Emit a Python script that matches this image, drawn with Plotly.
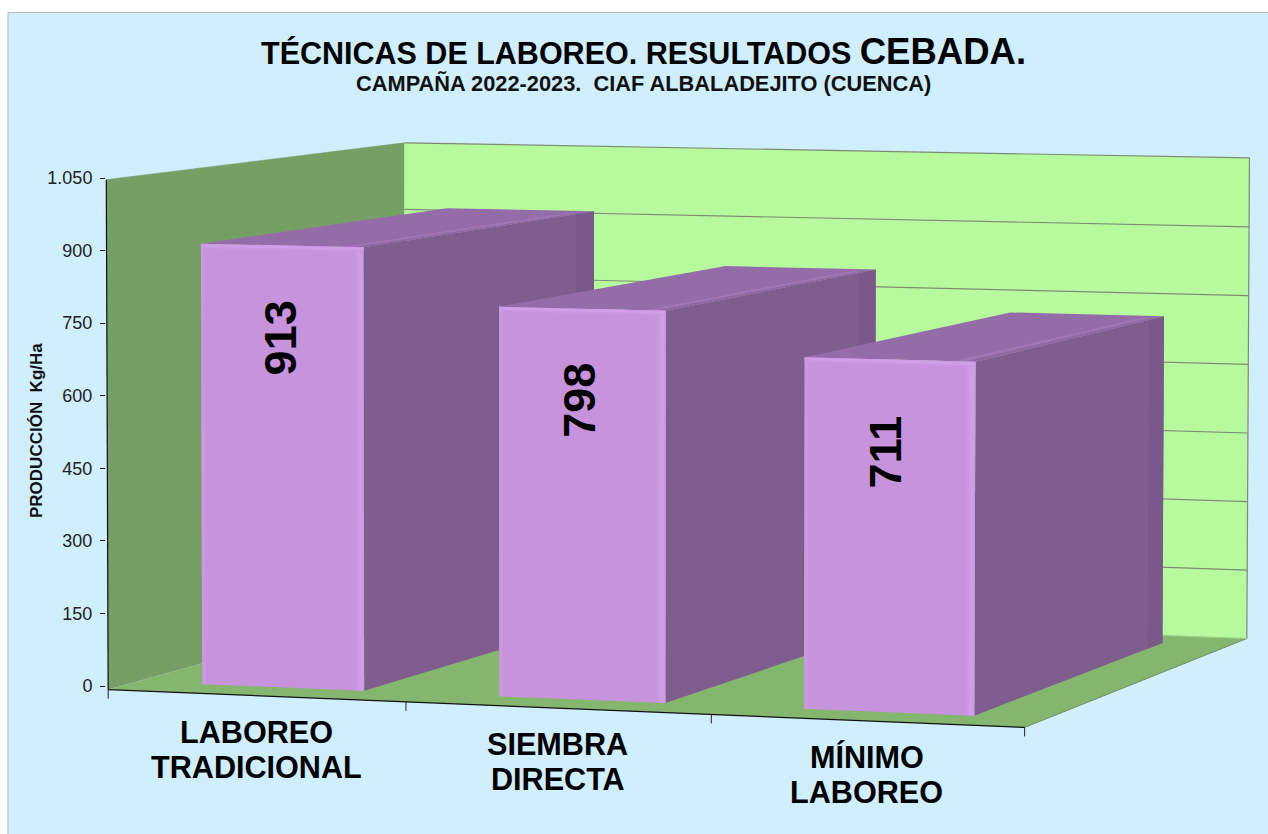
import numpy as np
import plotly.graph_objects as go

categories = ["LABOREO<br>TRADICIONAL", "SIEMBRA<br>DIRECTA", "MÍNIMO<br>LABOREO"]
values = [913, 798, 711]
value_ticks = [0, 150, 300, 450, 600, 750, 900, 1050]
title_main = "TÉCNICAS DE LABOREO. RESULTADOS "
title_big = "CEBADA."
subtitle = "CAMPAÑA 2022-2023.  CIAF ALBALADEJITO (CUENCA)"
y_title = "PRODUCCIÓN  Kg/Ha"

W, H = 1268, 834
VMAX = 1050.0
# Camera calibration: chart-space (category, depth, value) -> page pixel
calib = [
    ((0, 0, 0), (109, 686)), ((1, 0, 0), (405, 700)), ((2, 0, 0), (711, 715)), ((3, 0, 0), (1025, 730)),
    ((0, 1, 0), (405, 612)), ((3, 1, 0), (1247, 638)),
    ((0, 0, 1050), (105, 178)), ((0, 1, 1050), (405, 143)), ((3, 1, 1050), (1249, 157)),
    ((3, 1, 900), (1248.7, 226)), ((3, 1, 750), (1248.4, 295)), ((3, 1, 600), (1248.1, 364)),
    ((3, 1, 450), (1247.9, 432)), ((3, 1, 300), (1247.6, 501)), ((3, 1, 150), (1247.3, 569)),
    ((0, 1, 900), (405, 210)),
    ((3, 0, 1050), (1028, 202)),
]
A, b = [], []
for (u, d, v), (px, py) in calib:
    w = v / VMAX
    A.append([u, d, w, 1, 0, 0, 0, 0, -px * u, -px * d, -px * w]); b.append(px)
    A.append([0, 0, 0, 0, u, d, w, 1, -py * u, -py * d, -py * w]); b.append(py)
sol = np.linalg.lstsq(np.array(A, float), np.array(b, float), rcond=None)[0]
P = np.append(sol, 1.0).reshape(3, 4)


def proj(u, d, v):
    q = P @ np.array([u, d, v / VMAX, 1.0])
    return q[0] / q[2], q[1] / q[2]


fig = go.Figure()


def poly(pts, color):
    xy = [proj(*p) for p in pts]
    xy.append(xy[0])
    fig.add_trace(go.Scatter(x=[p[0] for p in xy], y=[p[1] for p in xy], mode="lines", fill="toself",
                             fillcolor=color, line=dict(width=0, color=color), hoverinfo="skip", showlegend=False))


def line(pts, color, width=1.0):
    xy = [proj(*p) for p in pts]
    fig.add_trace(go.Scatter(x=[p[0] for p in xy], y=[p[1] for p in xy], mode="lines",
                             line=dict(width=width, color=color), hoverinfo="skip", showlegend=False))


# Walls and floor
poly([(0, 0, 0), (0, 1, 0), (0, 1, VMAX), (0, 0, VMAX)], "#769F65")
poly([(0, 1, 0), (3, 1, 0), (3, 1, VMAX), (0, 1, VMAX)], "#B6FA9D")
poly([(0, 0, 0), (3, 0, 0), (3, 1, 0), (0, 1, 0)], "#85B670")
for t in value_ticks[1:]:
    line([(0, 0, t), (0, 1, t)], "#739C62", 0.6)
    line([(0, 1, t), (3, 1, t)], "#7F8A74", 1.2)
line([(3, 1, 0), (3, 1, VMAX)], "#7F8A74", 1.2)
line([(3, 0, 0), (3, 1, 0)], "#6F8F62", 1.0)
line([(0, 1, 0), (3, 1, 0)], "#9CCF85", 1.0)
line([(0, 0, 0), (0, 0, VMAX)], "#111111", 1.2)
line([(0, 0, 0), (3, 0, 0)], "#111111", 1.2)
for i in range(4):
    x0, y0 = proj(i, 0, 0)
    fig.add_trace(go.Scatter(x=[x0, x0], y=[y0, y0 + 9], mode="lines", line=dict(width=1, color="#222222"),
                             hoverinfo="skip", showlegend=False))

# Bars
U0, U1, D0, D1 = 0.222, 0.77, 0.09, 0.915
BACK_INSET = 0.018
for i, val in enumerate(values):
    a, c = i + U0, i + U1
    poly([(c, D0, 0), (c, D1, 0), (c, D1, val), (c, D0, val)], "#7F5D8E")
    poly([(c, D1 - 0.07, 0), (c, D1, 0), (c, D1, val), (c, D1 - 0.07, val)], "#7A5889")
    poly([(a, D0, val), (c, D0, val), (c, D1, val), (a + BACK_INSET, D1, val)], "#946CA8")
    poly([(c - 0.07, D0, val), (c, D0, val), (c, D1 - 0.04, val), (c - 0.05, D1 - 0.04, val)], "#A077B5")
    poly([(c - 0.035, D0, val), (c, D0, val), (c, D1 - 0.04, val), (c - 0.02, D1 - 0.04, val)], "#8F68A3")
    poly([(a, D0, 0), (c, D0, 0), (c, D0, val), (a, D0, val)], "#C693DC")
    poly([(c - 0.028, D0, 0), (c, D0, 0), (c, D0, val), (c - 0.028, D0, val)], "#CA97E1")
    poly([(c - 0.018, D0, 0), (c - 0.003, D0, 0), (c - 0.003, D0, val), (c - 0.018, D0, val)], "#D09DE7")
    poly([(a, D0, val - 10), (c, D0, val - 10), (c, D0, val), (a, D0, val)], "#CA97E1")
    poly([(a, D0, val - 6), (c, D0, val - 6), (c, D0, val - 1), (a, D0, val - 1)], "#D19EE8")
    poly([(a, D0, 0), (a + 0.012, D0, 0), (a + 0.012, D0, val), (a, D0, val)], "#CB98E2")

# Value axis: a real linear axis placed on the left wall edge
fig.add_trace(go.Scatter(x=[105, 105], y=[0, VMAX], yaxis="y2", mode="markers", marker=dict(opacity=0),
                         hoverinfo="skip", showlegend=False))

FONT = "Liberation Sans, Arial, sans-serif"
notes = [
    dict(x=643, y=51, text=f'<b>{title_main}<span style="font-size:36.5px">{title_big}</span></b>',
         font=dict(size=30.5, color="#000000")),
    dict(x=643.5, y=83.5, text=f"<b>{subtitle}</b>", font=dict(size=21.8, color="#111111")),
    dict(x=36, y=431, text=f"<b>{y_title}</b>", textangle=-90, font=dict(size=17, color="#111111")),
]
line_offsets = [36, 71]
for i, cat in enumerate(categories):
    fx, fy = proj(i + 0.5, 0, 0)
    for off, part in zip(line_offsets, cat.split("<br>")):
        notes.append(dict(x=fx, y=fy + off, text=f"<b>{part}</b>", font=dict(size=30.6, color="#000000")))
value_nudge = [-1, -2, -4]
for i, val in enumerate(values):
    fx, fy = proj(i + (U0 + U1) / 2, D0, val)
    notes.append(dict(x=fx + value_nudge[i], y=fy + 92, text=f"<b>{val}</b>", textangle=-90,
                      font=dict(size=45, color="#000000")))
for n in notes:
    n.update(xref="x", yref="y", showarrow=False, xanchor="center", yanchor="middle")

y0_frac = 1 - 686 / H
y1_frac = 1 - 178 / H
fig.update_layout(
    width=W, height=H, margin=dict(l=0, r=0, t=0, b=0, pad=0), paper_bgcolor="#FFFFFF", plot_bgcolor="rgba(0,0,0,0)",
    font=dict(family=FONT), separators=",.", showlegend=False, annotations=notes,
    xaxis=dict(range=[0, W], visible=False, fixedrange=True, domain=[0, 1], automargin=False),
    yaxis=dict(range=[H, 0], visible=False, fixedrange=True, domain=[0, 1], automargin=False),
    yaxis2=dict(anchor="free", position=105 / W, domain=[y0_frac, y1_frac], range=[0, VMAX], automargin=False,
                tickvals=value_ticks, tickformat=",d", ticks="outside", ticklen=5, tickcolor="#222222",
                showgrid=False, zeroline=False, showline=False, tickfont=dict(size=18, color="#222222"),
                ticklabelstandoff=4, fixedrange=True),
    shapes=[dict(type="rect", xref="paper", yref="paper", x0=8 / W, x1=1.01, y0=-0.01, y1=1 - 12.5 / H,
                 fillcolor="#CFEEFE", line=dict(color="#B9B9B9", width=1), layer="below")],
)
fig.write_html("out.html", post_script="document.body.style.margin='0';", config=dict(displayModeBar=False))
